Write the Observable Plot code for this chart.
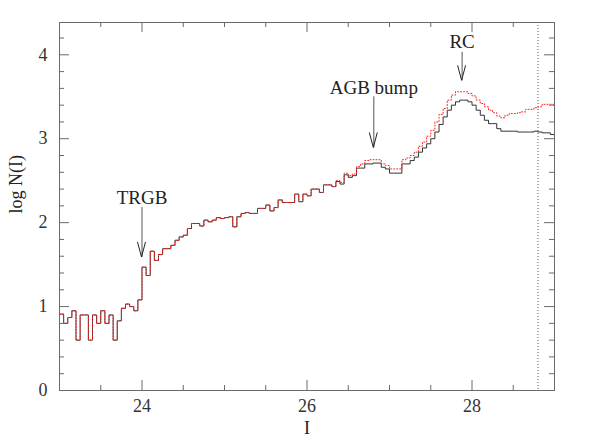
<!DOCTYPE html>
<html><head><meta charset="utf-8">
<script src="https://cdn.jsdelivr.net/npm/d3@7"></script>
<script src="https://cdn.jsdelivr.net/npm/@observablehq/plot@0.6"></script>
<style>body{margin:0;background:#fff;} #chart{width:589px;height:440px;}</style>
</head><body><div id="chart"></div>
<script>
// bin grid of the luminosity function (magnitudes)
const binStart = 23, binWidth = 0.05, binEnd = 29;
// log N(I) per bin, black histogram
const blackCounts = [
0.91,0.80,0.87,0.95,0.60,0.90,0.90,0.60,0.90,0.80,
0.95,0.80,0.90,0.60,0.83,0.98,1.03,1.00,0.95,1.08,
1.47,1.37,1.66,1.55,1.62,1.69,1.69,1.73,1.79,1.83,
1.85,1.93,1.99,1.99,1.96,2.03,2.01,2.03,2.06,2.05,
2.06,2.07,1.95,2.07,2.11,2.12,2.11,2.11,2.17,2.17,
2.21,2.14,2.18,2.27,2.24,2.24,2.24,2.34,2.25,2.34,
2.32,2.40,2.40,2.36,2.45,2.45,2.43,2.49,2.46,2.57,
2.54,2.56,2.65,2.65,2.70,2.70,2.71,2.71,2.66,2.64,
2.59,2.59,2.59,2.70,2.70,2.74,2.78,2.84,2.89,2.94,
3.00,3.08,3.17,3.26,3.34,3.40,3.44,3.46,3.46,3.44,
3.40,3.34,3.28,3.22,3.18,3.18,3.12,3.09,3.09,3.09,
3.09,3.08,3.08,3.08,3.08,3.09,3.08,3.07,3.07,3.05];
// log N(I) per bin, red dotted histogram
const redCounts = [
0.91,0.80,0.87,0.95,0.60,0.90,0.90,0.60,0.90,0.80,
0.95,0.80,0.90,0.60,0.83,0.98,1.03,1.00,0.95,1.08,
1.47,1.37,1.66,1.55,1.62,1.69,1.69,1.73,1.79,1.83,
1.85,1.93,1.99,1.99,1.96,2.03,2.01,2.03,2.06,2.05,
2.06,2.07,1.95,2.07,2.11,2.12,2.11,2.11,2.17,2.17,
2.21,2.14,2.18,2.27,2.24,2.24,2.24,2.34,2.25,2.34,
2.32,2.40,2.40,2.36,2.45,2.45,2.43,2.50,2.48,2.59,
2.56,2.58,2.67,2.70,2.74,2.75,2.75,2.75,2.70,2.68,
2.64,2.64,2.64,2.75,2.77,2.80,2.84,2.91,2.96,3.03,
3.10,3.20,3.29,3.36,3.46,3.52,3.56,3.56,3.56,3.54,
3.51,3.46,3.42,3.38,3.34,3.31,3.27,3.25,3.28,3.30,
3.30,3.31,3.32,3.35,3.35,3.37,3.38,3.41,3.41,3.41];
const xMajor = [24, 26, 28];
const xMinor = [23.5, 24.5, 25, 25.5, 26.5, 27, 27.5, 28.5];
const yMajor = [0, 1, 2, 3, 4];
const yMinor = [0.2,0.4,0.6,0.8,1.2,1.4,1.6,1.8,2.2,2.4,2.6,2.8,3.2,3.4,3.6,3.8,4.2];
const limitMag = [28.8];
const annLabels = ["TRGB", "AGB bump", "RC"];
const annMag = [24.0, 26.81, 27.88];
const annTip = [1.585, 2.89, 3.69];
const annTop = [2.18, 3.50, 4.03];
const annTextY = [2.29, 3.60, 4.15];

function steps(vals) {
  const rows = vals.map((v, k) => ({I: binStart + k * binWidth, v}));
  rows.push({I: binEnd, v: vals[vals.length - 1]});
  return rows;
}
const blackRows = steps(blackCounts);
const redRows = steps(redCounts);
const ann = annLabels.map((label, i) => ({label, I: annMag[i], tip: annTip[i], top: annTop[i], ty: annTextY[i]}));

const W = 589, H = 440, mL = 59, mR = 35, mT = 22, mB = 50;
const fw = W - mL - mR, fh = H - mT - mB;
const axisCol = "#6a6a6a";

function heads(index, scales) {
  const g = d3.create("svg:g").attr("fill", "none").attr("stroke", "#222").attr("stroke-width", 1);
  for (const a of ann) {
    const x = scales.x(a.I), y = scales.y(a.tip);
    g.append("path").attr("d", `M${x - 4},${y - 15}L${x},${y}L${x + 4},${y - 15}`);
  }
  return g.node();
}

const chart = Plot.plot({
  width: W, height: H,
  marginLeft: mL, marginRight: mR, marginTop: mT, marginBottom: mB,
  style: {fontFamily: "'Liberation Serif', serif", fontSize: "18px", color: "#333", background: "#fff"},
  x: {domain: [23, 29]},
  y: {domain: [0, 4.385]},
  marks: [
    Plot.ruleX(limitMag, {x: d => d, stroke: "#555", strokeDasharray: "1,2", strokeWidth: 1}),
    Plot.line(blackRows, {x: "I", y: "v", curve: "step-after", stroke: "#333", strokeWidth: 1}),
    Plot.line(redRows, {x: "I", y: "v", curve: "step-after", stroke: "#ff2020", strokeWidth: 1, strokeDasharray: "1,2"}),
    Plot.ruleX(ann, {x: "I", y1: "tip", y2: "top", stroke: "#555", strokeWidth: 1}),
    heads,
    Plot.text(ann, {x: "I", y: "ty", text: "label", fontSize: 19, fill: "#222", letterSpacing: "1.5px"}),
    Plot.frame({stroke: axisCol}),
    Plot.tickX(xMajor, {x: d => d, insetTop: fh - 10, stroke: axisCol}),
    Plot.tickX(xMajor, {x: d => d, insetBottom: fh - 10, stroke: axisCol}),
    Plot.tickX(xMinor, {x: d => d, insetTop: fh - 5, stroke: axisCol}),
    Plot.tickX(xMinor, {x: d => d, insetBottom: fh - 5, stroke: axisCol}),
    Plot.tickY(yMajor, {y: d => d, insetRight: fw - 10, stroke: axisCol}),
    Plot.tickY(yMajor, {y: d => d, insetLeft: fw - 10, stroke: axisCol}),
    Plot.tickY(yMinor, {y: d => d, insetRight: fw - 5, stroke: axisCol}),
    Plot.tickY(yMinor, {y: d => d, insetLeft: fw - 5, stroke: axisCol}),
    Plot.axisX({ticks: xMajor, tickFormat: d => String(d), tickSize: 0, tickPadding: 9, fontSize: 18, label: null}),
    Plot.axisY({ticks: yMajor, tickFormat: d => String(d), tickSize: 0, tickPadding: 12, fontSize: 18, label: null}),
    Plot.text(["I"], {frameAnchor: "bottom", lineAnchor: "top", dy: 31, fontSize: 18, fill: "#222"}),
    Plot.text(["log N(I)"], {frameAnchor: "left", dx: -43, dy: 7, rotate: -90, fontSize: 18, fill: "#222"})
  ]
});
document.getElementById("chart").appendChild(chart);
</script>
</body></html>
